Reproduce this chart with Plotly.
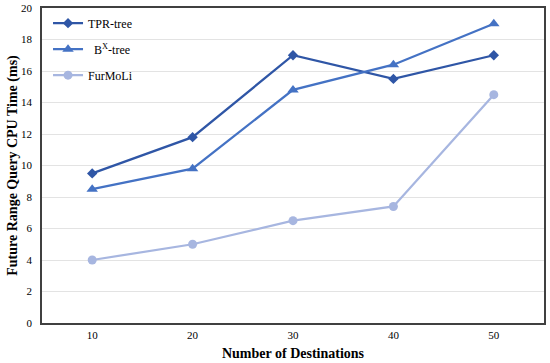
import plotly.graph_objects as go

categories = ["10", "20", "30", "40", "50"]
tpr_tree = [9.5, 11.8, 17.0, 15.5, 17.0]
bx_tree = [8.5, 9.8, 14.8, 16.4, 19.0]
furmoli = [4.0, 5.0, 6.5, 7.4, 14.5]
series_names = ["TPR-tree", "  B<sup>X</sup>-tree", "FurMoLi"]

colors = ["#2F56A6", "#4472C4", "#A7B6E0"]
symbols = ["diamond", "triangle-up", "circle"]
sizes = [8, 10, 9]

fig = go.Figure()
for i, (name, vals) in enumerate(zip(series_names, [tpr_tree, bx_tree, furmoli])):
    fig.add_trace(go.Scatter(
        x=categories, y=vals, name=name, mode="lines+markers",
        line=dict(color=colors[i], width=2.25),
        marker=dict(symbol=symbols[i], size=sizes[i], color=colors[i]),
        legendgroup=f"g{i}",
    ))

font_family = "Liberation Serif"
fig.update_layout(
    width=550, height=363,
    margin=dict(l=42, r=6, t=8, b=40),
    paper_bgcolor="white", plot_bgcolor="white",
    font=dict(family=font_family, color="#000000", size=11),
    showlegend=True,
    legend=dict(x=0.012, y=0.998, xanchor="left", yanchor="top",
                bgcolor="rgba(0,0,0,0)", font=dict(size=12, family=font_family, color="#000000"),
                tracegroupgap=7, itemwidth=30),
    xaxis=dict(type="category", range=[-0.5, 4.5], showgrid=False, showline=True,
               linecolor="#404040", linewidth=1.5, mirror=True, ticks="",
               ticklabelstandoff=1, automargin=False,
               tickfont=dict(size=11, family=font_family, color="#000000"),
               title=dict(text="<b>Number of Destinations</b>",
                          font=dict(size=14, family=font_family), standoff=8)),
    yaxis=dict(range=[0, 20], dtick=2, showgrid=True, gridcolor="#E3E3E3", gridwidth=1,
               showline=True, linecolor="#404040", linewidth=1.5, mirror=True,
               ticks="", ticklabelstandoff=6, automargin=False,
               tickfont=dict(size=11, family=font_family, color="#000000"), zeroline=False,
               title=dict(text="<b>Future Range Query CPU Time (ms)</b>",
                          font=dict(size=14, family=font_family), standoff=0)),
)

fig.write_html("out.html", config={"displayModeBar": False},
               post_script="document.body.style.margin='0';document.body.style.overflow='hidden';")
